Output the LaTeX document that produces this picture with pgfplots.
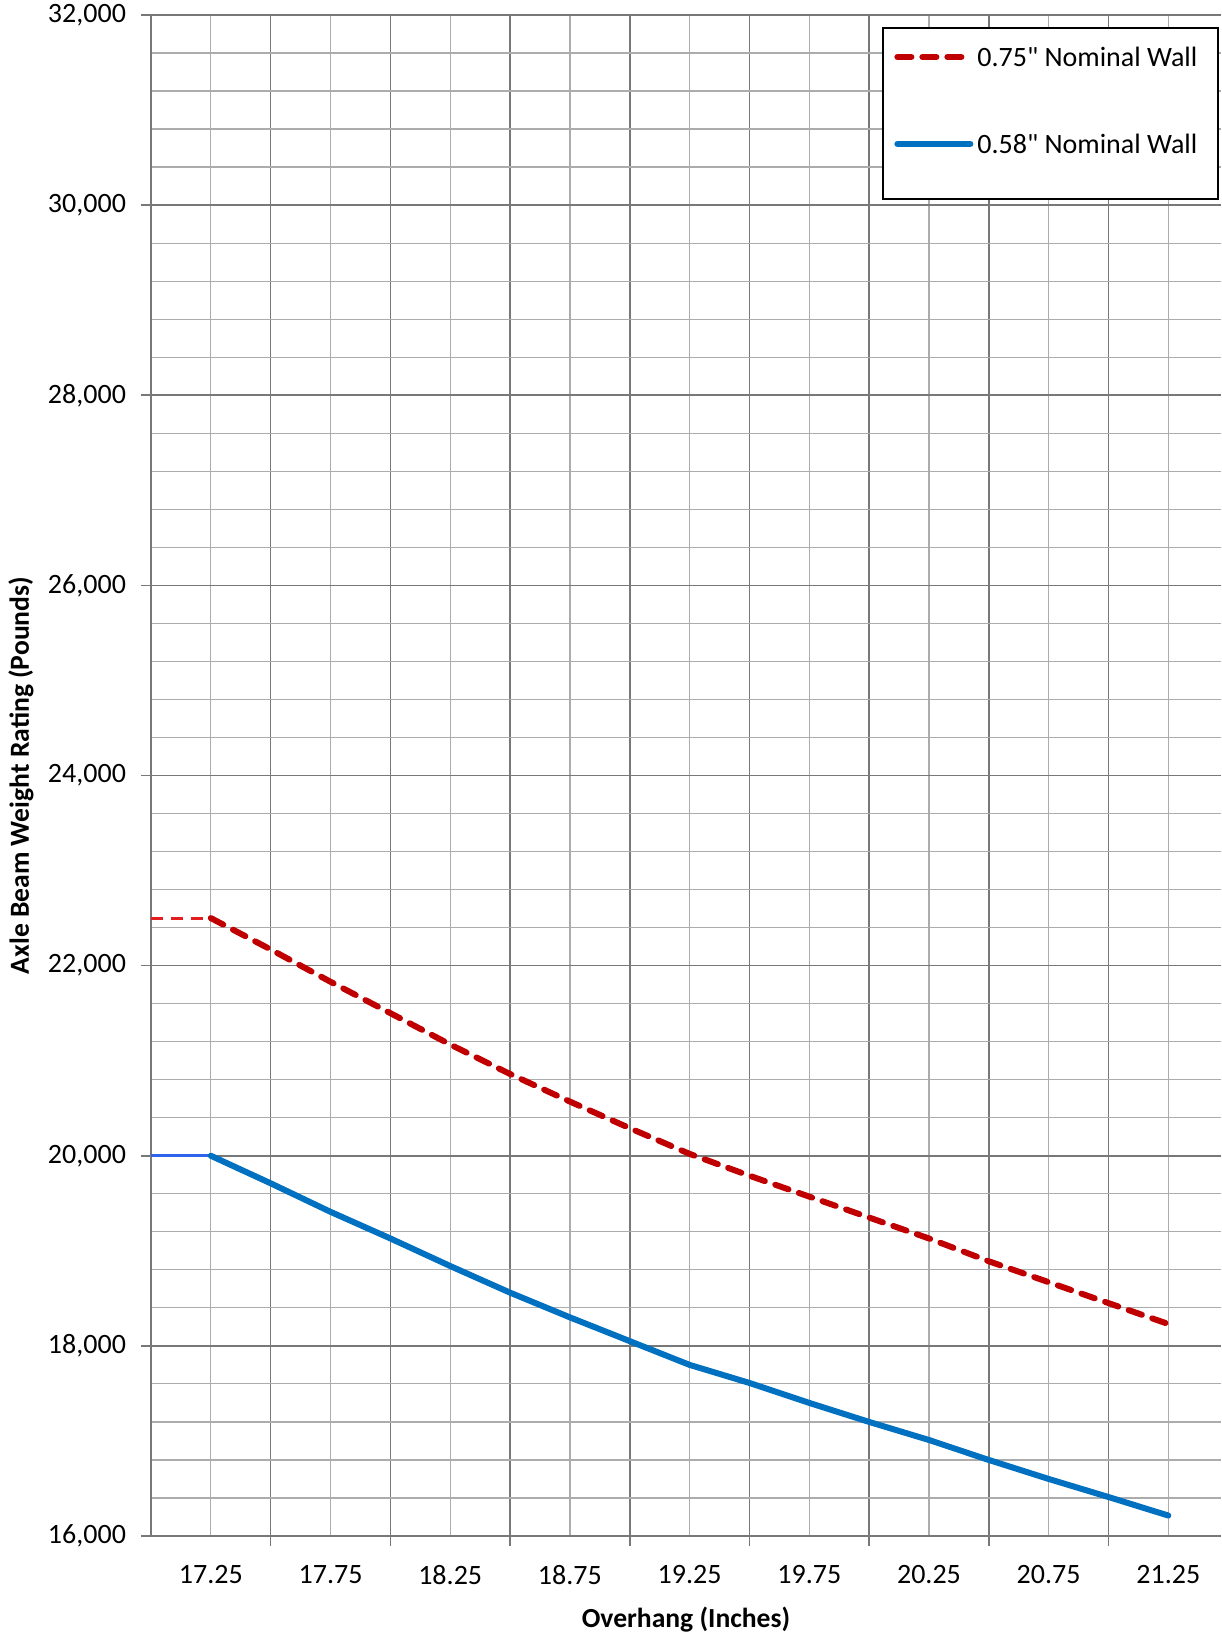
\documentclass[border=0pt]{standalone}
\usepackage{pgfplots}
\pgfplotsset{compat=1.18}
\usepackage{fontspec}
\setmainfont{Carlito}
\newfontfamily\plainfont{Carlito}
\definecolor{redline}{RGB}{192,0,0}
\definecolor{redflat}{RGB}{228,30,30}
\definecolor{blueline}{RGB}{0,112,192}
\definecolor{blueflat}{RGB}{45,100,235}
\definecolor{gmaj}{RGB}{120,120,120}
\definecolor{gmin}{RGB}{172,172,172}

\pgfplotstableread{
x y
17.25 22500
17.50 22170
17.75 21830
18.00 21500
18.25 21170
18.50 20860
18.75 20570
19.00 20290
19.25 20020
19.50 19790
19.75 19570
20.00 19350
20.25 19130
20.50 18890
20.75 18670
21.00 18450
21.25 18230
}\redtable

\pgfplotstableread{
x y
17.25 20000
17.50 19710
17.75 19410
18.00 19130
18.25 18840
18.50 18560
18.75 18300
19.00 18050
19.25 17800
19.50 17610
19.75 17400
20.00 17200
20.25 17010
20.50 16800
20.75 16600
21.00 16410
21.25 16215
}\bluetable

\begin{document}
\begin{tikzpicture}
\begin{axis}[
  scale only axis, width=535pt, height=760.5pt,
  xmin=17, xmax=21.47, ymin=16000, ymax=32000,
  axis x line*=bottom, axis y line*=left,
  axis line style={gmaj, line width=1pt},
  xtick={17.5,18,18.5,19,19.5,20,20.5,21},
  xticklabels={},
  minor xtick={17.25,17.75,18.25,18.75,19.25,19.75,20.25,20.75,21.25},
  extra x ticks={17.25,17.75,18.25,18.75,19.25,19.75,20.25,20.75,21.25},
  extra x tick labels={17.25,17.75,18.25,18.75,19.25,19.75,20.25,20.75,21.25},
  extra x tick style={grid=none, major tick length=0pt, xticklabel style={yshift=-11pt}},
  ytick={16000,18000,20000,22000,24000,26000,28000,30000,32000},
  minor y tick num=4,
  scaled y ticks=false,
  yticklabel style={/pgf/number format/1000 sep={,}, xshift=-4pt},
  /pgf/number format/assume math mode=true,
  grid=both,
  major grid style={gmaj, line width=0.8pt},
  minor grid style={gmin, line width=0.6pt},
  tick align=outside, major tick length=5pt, minor tick length=0pt,
  tick style={gmaj, line width=0.8pt},
  ticklabel style={font=\fontsize{14}{16}\selectfont, text=black},
  xlabel={Overhang (Inches)},
  ylabel={Axle Beam Weight Rating (Pounds)},
  every axis y label/.style={at={(axis description cs:-0.1215,0.5)}, rotate=90, anchor=center, font=\bfseries\fontsize{13.8}{16}\selectfont},
  every axis x label/.style={at={(axis description cs:0.5,-0.0552)}, anchor=center, font=\bfseries\fontsize{13.8}{16}\selectfont},
  legend style={at={(axis description cs:0.6841,0.9817)}, anchor=north west,
    draw=none, fill=none, inner sep=0pt, row sep=28.2pt, column sep=0pt,
    font=\plainfont\fontsize{14}{16}\selectfont, cells={anchor=base west}},
  legend image code/.code={\path[draw=none] (0pt,0pt) -- (45pt,0pt); \draw[#1] (7pt,4.8pt) -- (43.5pt,4.8pt);},
  clip=false,
]
\draw[black, line width=0.8pt, fill=white] (axis description cs:0.6841,0.99145) rectangle (axis description cs:0.9972,0.87903);
\addplot[redflat, line width=1.5pt, dash pattern=on 6pt off 4pt, forget plot] coordinates {(17,22500) (17.25,22500)};
\addplot[blueflat, line width=1.5pt, forget plot] coordinates {(17,20000) (17.25,20000)};
\addplot[redline, line width=3pt, dash pattern=on 7pt off 5.5pt, line cap=round] table {\redtable};
\addlegendentry{0.75" Nominal Wall}
\addplot[blueline, line width=3pt, line cap=round] table {\bluetable};
\addlegendentry{0.58" Nominal Wall}
\end{axis}
\pgfresetboundingbox
\useasboundingbox ([xshift=-75.5pt,yshift=-48.5pt]current axis.south west) rectangle ([yshift=7.5pt]current axis.north east);
\end{tikzpicture}
\end{document}
